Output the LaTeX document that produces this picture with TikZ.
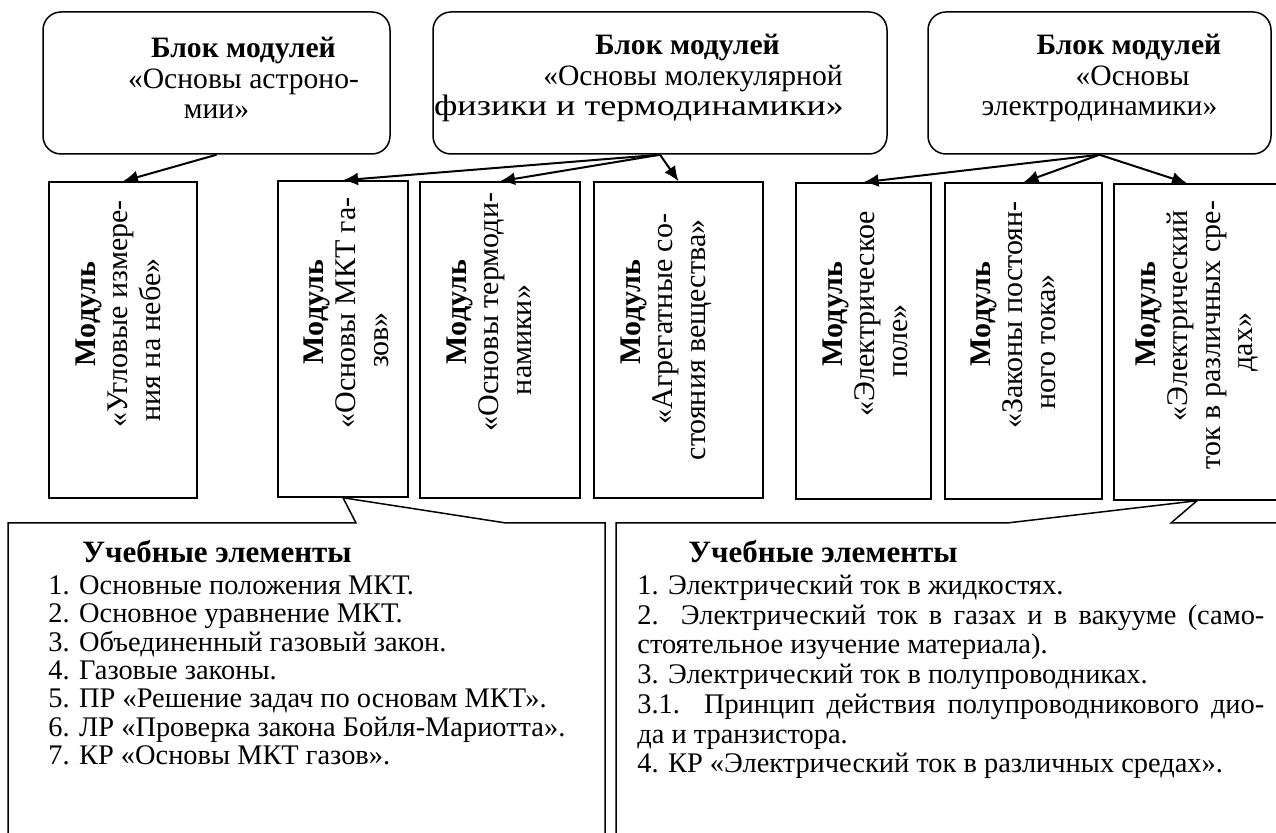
\documentclass[tikz,border=0pt]{standalone}
\usepackage{fontspec}
\setmainfont{Liberation Serif}
\usepackage{tikz}
\usetikzlibrary{arrows.meta,positioning}
\setlength{\parindent}{0pt}
\tikzstyle{block} = [rectangle, draw, line width=0.75pt, rounded corners=9pt, minimum height=71pt]
\tikzstyle{blocktext} = [align=center, font=\fontsize{14.8pt}{15.25pt}\selectfont]
\tikzstyle{module} = [rectangle, draw, line width=0.75pt, minimum height=158pt]
\tikzstyle{modtext} = [rotate=90, align=center, font=\fontsize{15pt}{16.25pt}\selectfont]
\tikzstyle{uetext} = [anchor=north west, inner sep=0pt, font=\fontsize{14.2pt}{14.15pt}\selectfont]
\tikzstyle{callout} = [line width=0.75pt]
\tikzstyle{line} = [draw, line width=1pt, -{Latex[length=7.5pt,width=6.5pt]}]

\begin{document}
\begin{tikzpicture}[x=0.5pt,y=-0.5pt]
\useasboundingbox (0,0) rectangle (1276,833);

% Blocks of modules
\node[block, minimum width=173.5pt] (blk1) at (216.5,83) {};
\node[block, minimum width=227pt] (blk2) at (660,83) {};
\node[block, minimum width=171.5pt] (blk3) at (1099.5,83) {};

\node[blocktext] (blk1t) at (216.5,78) {\hspace*{27pt}\textbf{Блок модулей}\\\hspace*{27pt}«Основы астроно-\\мии»};
\node[blocktext] (blk2t) at (660,78) {\hspace*{27.5pt}\textbf{Блок модулей}\\\hspace*{33pt}«Основы молекулярной\\\scalebox{1.22}[1]{физики и термодинамики»}\hspace*{21pt}};
\node[blocktext] (blk3t) at (1099.5,78) {\hspace*{29.5pt}\textbf{Блок модулей}\\\hspace*{33pt}«Основы\\электродинамики»};

% Modules
\node[module, minimum width=74pt] (mod1) at (123,340) {};
\node[module, minimum width=65pt] (mod2) at (343,339) {};
\node[module, minimum width=80pt] (mod3) at (500,340) {};
\node[module, minimum width=84.5pt] (mod4) at (678.5,340) {};
\node[module, minimum width=67.5pt] (mod5) at (863.5,341) {};
\node[module, minimum width=78.5pt] (mod6) at (1023.5,341) {};
\node[module, minimum width=83pt] (mod7) at (1197,342) {};

\node[modtext] (mod1t) at (118,340) {\hspace*{26pt}\textbf{Модуль}\\\hspace*{26pt}«Угловые измере-\\ния на небе»};
\node[modtext] (mod2t) at (346,340) {\hspace*{28pt}\textbf{Модуль}\\\hspace*{27pt}«Основы МКТ га-\\зов»};
\node[modtext] (mod3t) at (489,340) {\hspace*{28pt}\textbf{Модуль}\\\hspace*{28pt}«Основы термоди-\\намики»};
\node[modtext] (mod4t) at (666,340) {\hspace*{28pt}\textbf{Модуль}\\\hspace*{21pt}«Агрегатные со-\\стояния вещества»};
\node[modtext] (mod5t) at (865,341) {\hspace*{27pt}\textbf{Модуль}\\\hspace*{27pt}«Электрическое\\поле»};
\node[modtext] (mod6t) at (1013,342) {\hspace*{28pt}\textbf{Модуль}\\\hspace*{27pt}«Законы постоян-\\ного тока»};
\node[modtext] (mod7t) at (1197,342) {\hspace*{28pt}\textbf{Модуль}\\\hspace*{26pt}«Электрический\\\hspace*{7pt}ток в различных сре-\\дах»};

% Arrows
\draw[line] (blk1.south) -- (mod1.north);
\draw[line] (blk2.south) -- (mod2.north);
\draw[line] (blk2.south) -- (mod3.north);
\draw[line] (blk2.south) -- (mod4.north);
\draw[line] (blk3.south) -- (mod5.north);
\draw[line] (blk3.south) -- (mod6.north);
\draw[line] (blk3.south) -- ([xshift=-5pt]mod7.north);

% Learning elements
\draw[callout] (8,860) |- (356,523) -- (mod2.south) -- (506,523) -| (605,860);
\draw[callout] (616,860) |- (1007,523) -- (mod7.south) -- (1171,523) -- (1290,523);

\node[uetext, align=left] (ue1) at (48,540) {\hspace*{17pt}{\fontsize{15.5pt}{16pt}\selectfont\bfseries Учебные элементы}\\[1.85pt]
1. Основные положения МКТ.\\
2. Основное уравнение МКТ.\\
3. Объединенный газовый закон.\\
4. Газовые законы.\\
5. ПР «Решение задач по основам МКТ».\\
6. ЛР «Проверка закона Бойля-Мариотта».\\
7. КР «Основы МКТ газов».};

\node[uetext, text width=313.5pt, align=justify, font=\fontsize{14.2pt}{14.85pt}\selectfont] (ue2) at (637,540) {\hspace*{25.5pt}{\fontsize{15.5pt}{16pt}\selectfont\bfseries Учебные элементы}\\[1.15pt]
1. Электрический ток в жидкостях.\\
2. Электрический ток в газах и в вакууме (само-\linebreak стоятельное изучение материала).\\
3. Электрический ток в полупроводниках.\\
3.1. Принцип действия полупроводникового дио-\linebreak да и транзистора.\\
4. КР «Электрический ток в различных средах».};

\end{tikzpicture}
\end{document}
